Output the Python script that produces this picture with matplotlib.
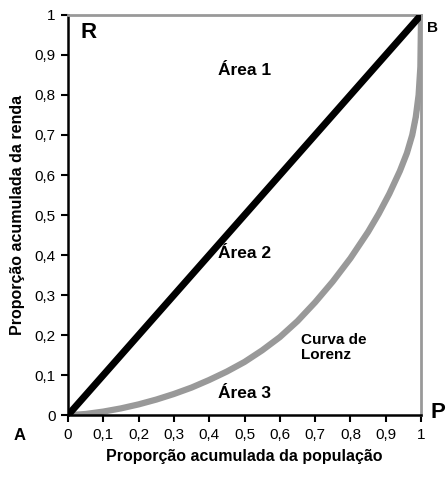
import numpy as np
import matplotlib.pyplot as plt
import matplotlib.transforms as mtransforms

plt.rcParams['font.family'] = ['Liberation Sans', 'DejaVu Sans']

# dados
igualdade_x = [0, 1]
igualdade_y = [0, 1]

populacao = [0, 0.05, 0.1, 0.15, 0.2, 0.25, 0.3, 0.35, 0.4, 0.45, 0.5, 0.55, 0.6, 0.65,
             0.7, 0.75, 0.8, 0.85, 0.88, 0.91, 0.94, 0.96, 0.975, 0.985, 0.993, 0.998, 1.0]
renda = [0, 0.003, 0.009, 0.017, 0.027, 0.039, 0.053, 0.069, 0.088, 0.109, 0.133, 0.162, 0.195, 0.235,
         0.282, 0.334, 0.392, 0.458, 0.503, 0.553, 0.61, 0.655, 0.70, 0.745, 0.80, 0.87, 1.0]

ticks = [0, 0.1, 0.2, 0.3, 0.4, 0.5, 0.6, 0.7, 0.8, 0.9, 1]
tick_labels = ['0', '0,1', '0,2', '0,3', '0,4', '0,5', '0,6', '0,7', '0,8', '0,9', '1']

fig = plt.figure(figsize=(4.47, 4.8), dpi=100)
ax = fig.add_axes([0.152, 0.135, 0.790, 0.834])

# linha de igualdade
ax.plot(igualdade_x, igualdade_y, color='black', lw=5, solid_capstyle='butt', zorder=3)

# contorno fino tracejado da curva (so a parte da direita)
offset = mtransforms.ScaledTranslation(1.5 / 72, 0.5 / 72, fig.dpi_scale_trans)
ax.plot(populacao[12:], renda[12:], color='black', lw=0.8, ls=(0, (4, 2)),
        transform=ax.transData + offset, zorder=2)
# curva de Lorenz
ax.plot(populacao, renda, color='#999999', lw=4.5, zorder=2.5, solid_joinstyle='round')

ax.set_xlim(0, 1)
ax.set_ylim(0, 1)
ax.set_xticks(ticks)
ax.set_xticklabels(tick_labels)
ax.set_yticks(ticks)
ax.set_yticklabels(tick_labels)
ax.tick_params(direction='out', length=5, width=1.5, labelsize=11, pad=4)

for s in ['left', 'bottom']:
    ax.spines[s].set_color('black')
    ax.spines[s].set_linewidth(1.8)
for s in ['top', 'right']:
    ax.spines[s].set_color('#999999')
    ax.spines[s].set_linewidth(2)

ax.set_xlabel('Proporção acumulada da população', fontsize=11.5, fontweight='bold', labelpad=5)
ax.set_ylabel('Proporção acumulada da renda', fontsize=11.5, fontweight='bold', labelpad=7)

ax.text(0.5, 0.86, 'Área 1', fontsize=12.5, fontweight='bold', ha='center', va='center')
ax.text(0.5, 0.405, 'Área 2', fontsize=12.5, fontweight='bold', ha='center', va='center')
ax.text(0.5, 0.055, 'Área 3', fontsize=12.5, fontweight='bold', ha='center', va='center')
ax.text(0.66, 0.17, 'Curva de\nLorenz', fontsize=11, fontweight='bold', ha='left', va='center',
        linespacing=1.1)

fig.text(89 / 447, 1 - 32 / 480, 'R', fontsize=16, fontweight='bold', ha='center', va='center')
fig.text(433 / 447, 1 - 28 / 480, 'B', fontsize=11, fontweight='bold', ha='center', va='center')
fig.text(438 / 447, 1 - 412 / 480, 'P', fontsize=16, fontweight='bold', ha='center', va='center')
fig.text(20 / 447, 1 - 436 / 480, 'A', fontsize=12, fontweight='bold', ha='center', va='center')

fig.savefig('out.png', dpi=100)
